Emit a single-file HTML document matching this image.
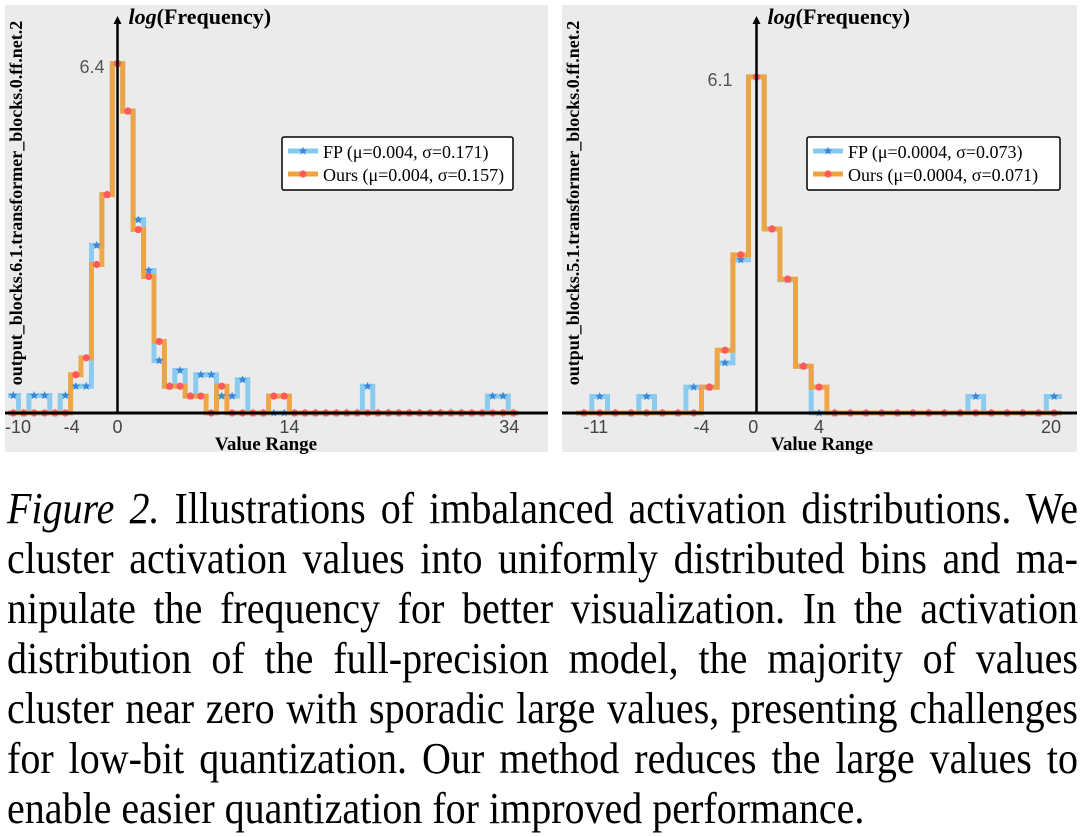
<!DOCTYPE html>
<html><head><meta charset="utf-8">
<style>
body{margin:0;width:1081px;height:837px;background:#fff;overflow:hidden;position:relative;font-family:"Liberation Serif",serif}
svg{position:absolute;left:0;top:0}
.cap{position:absolute;left:7px;width:1071px;font-size:40px;line-height:50px;color:#000;font-family:"Liberation Serif",serif}
.ln{text-align:justify;text-align-last:justify;white-space:nowrap;height:50px;transform:scaleY(1.1);transform-origin:50% 80%}
.ln.last{text-align-last:left}
</style></head><body>
<svg id="chart" width="1081" height="460"></svg>
<div class="cap" style="top:485px">
<div class="ln"><i>Figure 2.</i> Illustrations of imbalanced activation distributions. We</div>
<div class="ln">cluster activation values into uniformly distributed bins and ma-</div>
<div class="ln">nipulate the frequency for better visualization. In the activation</div>
<div class="ln">distribution of the full-precision model, the majority of values</div>
<div class="ln">cluster near zero with sporadic large values, presenting challenges</div>
<div class="ln">for low-bit quantization. Our method reduces the large values to</div>
<div class="ln last">enable easier quantization for improved performance.</div>
</div>
<script>
// Left panel data (log frequency per bin)
const leftFP=[0.32,0,0.32,0.32,0,0.32,0.49,0.49,3.07,4.0,6.4,5.53,3.54,2.61,0.96,0.49,0.78,0.31,0.70,0.70,0.31,0.31,0.61,0,0,0,0,0,0,0,0,0,0,0,0.49,0,0,0,0,0,0,0,0,0,0,0,0.31,0.31,0];
const leftOurs=[0,0,0,0,0,0,0.70,1.01,2.72,4.0,6.4,5.53,3.36,2.50,1.31,0.49,0.49,0.31,0.31,0,0.49,0,0,0,0,0.31,0.31,0,0,0,0,0,0,0,0,0,0,0,0,0,0,0,0,0,0,0,0,0,0];
const leftTicks=["-10","-4","0","14","34"];
const leftTickBins=[0.45,5.6,10,26.5,47.6];
// Right panel data
const rightFP=[0,0.30,0,0,0.30,0,0,0.47,0.47,0.91,2.78,6.1,3.34,2.42,0.85,0,0,0,0,0,0,0,0,0,0,0.30,0,0,0,0,0.30];
const rightOurs=[0,0,0,0,0,0,0,0,0.47,1.14,2.87,6.1,3.34,2.43,0.85,0.47,0,0,0,0,0,0,0,0,0,0,0,0,0,0,0];
const rightTicks=["-11","-4","0","4","20"];
const rightTickBins=[0.75,7.5,10.8,15,29.8];

const NS="http://www.w3.org/2000/svg";
const svg=document.getElementById('chart');
function mk(tag,attrs,parent){const e=document.createElementNS(NS,tag);for(const k in attrs)e.setAttribute(k,attrs[k]);(parent||svg).appendChild(e);return e;}
function star(cx,cy,r){let p=[];for(let i=0;i<10;i++){const a=-Math.PI/2+i*Math.PI/5;const rr=i%2?r*0.42:r;p.push((cx+rr*Math.cos(a)).toFixed(1)+','+(cy+rr*Math.sin(a)).toFixed(1));}return p.join(' ');}

function panel(cfg){
  const g=mk('g',{});
  
  
  const bg=mk('rect',{x:cfg.px,y:5,width:cfg.pw,height:447,fill:'#ebebeb'},g);
  
  
  const xs=i=>cfg.x0+i*cfg.dx;
  const ys=v=>cfg.base-v*cfg.scale;
  function stepPath(vals){
    let d='';const h=cfg.dx/2;
    vals.forEach((v,i)=>{const x1=xs(i)-h,x2=xs(i)+h,y=ys(v);d+=(i===0?'M':'L')+x1.toFixed(1)+','+y.toFixed(1)+'L'+x2.toFixed(1)+','+y.toFixed(1);});
    return d;
  }
  const fp=mk('path',{d:stepPath(cfg.fp),fill:'none',stroke:'#86c9ee',"stroke-width":5,opacity:0.95},g);
  
  
  const ours=mk('path',{d:stepPath(cfg.ours),fill:'none',stroke:'#f0a23e',"stroke-width":5,opacity:0.95},g);
  
  
  cfg.fp.forEach((v,i)=>{const s=mk('polygon',{points:star(xs(i),ys(v),4.5),fill:'#3a86d8'},g);
    
    });
  cfg.ours.forEach((v,i)=>{const c=mk('circle',{cx:xs(i),cy:ys(v),r:3.6,fill:'#ff5a5a'},g);
    
    });
  const xa=mk('line',{x1:cfg.px,x2:cfg.px+cfg.pw,y1:cfg.base,y2:cfg.base,stroke:'#000',"stroke-width":3},g);
  
  
  const ax=cfg.axisX;
  const ya=mk('line',{x1:ax,x2:ax,y1:cfg.base,y2:22,stroke:'#000',"stroke-width":2.5},g);
  
  
  const ar=mk('polygon',{points:`${ax-4},24 ${ax+4},24 ${ax},16`,fill:'#000'},g);
  
  
  const yt=mk('text',{x:ax+11,y:24,"font-family":"Liberation Serif, serif","font-size":22,"font-weight":"bold"},g);
  yt.innerHTML='<tspan font-style="italic">log</tspan>(Frequency)';
  
  
  const pk=mk('text',{x:cfg.peakX,y:cfg.peakY,"font-family":"Liberation Sans, sans-serif","font-size":18,fill:'#555',"text-anchor":"middle"},g);
  pk.textContent=cfg.peakLabel;
  
  
  cfg.ticks.forEach((t,k)=>{const tx=mk('text',{x:xs(cfg.tickBins[k]),y:433,"font-family":"Liberation Sans, sans-serif","font-size":18,fill:'#444',"text-anchor":"middle"},g);
    tx.textContent=t;
    
    });
  const xt=mk('text',{x:cfg.xTitleX,y:450,"font-family":"Liberation Serif, serif","font-size":19,"font-weight":"bold","text-anchor":"middle"},g);
  xt.textContent='Value Range';
  
  
  const lyl=mk('text',{transform:`translate(${cfg.px+17},${cfg.layerY}) rotate(-90)`,"font-family":"Liberation Serif, serif","font-size":18,"font-weight":"bold","text-anchor":"middle"},g);
  lyl.textContent=cfg.layer;
  
  
  // legend
  const lg=mk('g',{},g);
  
  
  mk('rect',{x:cfg.lx,y:137,width:cfg.lw,height:53,fill:'#fff',stroke:'#000',"stroke-width":1.5,rx:2},lg);
  const e1=mk('g',{},lg);
  
  
  mk('line',{x1:cfg.lx+6,x2:cfg.lx+36,y1:151,y2:151,stroke:'#86c9ee',"stroke-width":5},e1);
  mk('polygon',{points:star(cfg.lx+21,151,4.5),fill:'#3a86d8'},e1);
  const t1=mk('text',{x:cfg.lx+41,y:158,"font-family":"Liberation Serif, serif","font-size":18},e1);t1.textContent=cfg.fpLabel;
  const e2=mk('g',{},lg);
  
  
  mk('line',{x1:cfg.lx+6,x2:cfg.lx+36,y1:174,y2:174,stroke:'#f0a23e',"stroke-width":5},e2);
  mk('circle',{cx:cfg.lx+21,cy:174,r:3.6,fill:'#ff5a5a'},e2);
  const t2=mk('text',{x:cfg.lx+41,y:181,"font-family":"Liberation Serif, serif","font-size":18},e2);t2.textContent=cfg.oursLabel;
}
panel({name:'left-panel',px:5,pw:543,x0:13.3,dx:10.42,base:413,scale:54.6,fp:leftFP,ours:leftOurs,axisX:117.5,
  ticks:leftTicks,tickBins:leftTickBins,peakX:92,peakY:73,peakLabel:'6.4',xTitleX:266,layerY:203,
  layer:'output_blocks.6.1.transformer_blocks.0.ff.net.2',lx:282,lw:231,
  fpLabel:'FP (μ=0.004, σ=0.171)',oursLabel:'Ours (μ=0.004, σ=0.157)'});
panel({name:'right-panel',px:562,pw:515,x0:584,dx:15.67,base:413,scale:55.1,fp:rightFP,ours:rightOurs,axisX:756.5,
  ticks:rightTicks,tickBins:rightTickBins,peakX:720,peakY:86,peakLabel:'6.1',xTitleX:822,layerY:203,
  layer:'output_blocks.5.1.transformer_blocks.0.ff.net.2',lx:807,lw:253,
  fpLabel:'FP (μ=0.0004, σ=0.073)',oursLabel:'Ours (μ=0.0004, σ=0.071)'});
</script>
</body></html>
